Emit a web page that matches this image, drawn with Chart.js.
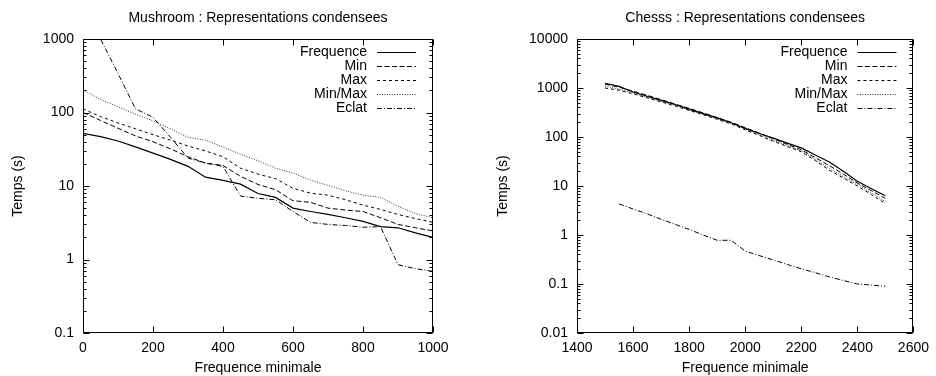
<!DOCTYPE html>
<html>
<head>
<meta charset="utf-8">
<script src="https://cdn.jsdelivr.net/npm/chart.js@4"></script>
<style>
  html, body { margin: 0; padding: 0; background: #fff; }
  #wrap { position: relative; width: 936px; height: 376px; }
  canvas { position: absolute; top: 0; }
  #mushroom { left: 0; }
  #chess { left: 468px; }
</style>
</head>
<body>
<div id="wrap">
  <canvas id="mushroom" width="468" height="376"></canvas>
  <canvas id="chess" width="468" height="376"></canvas>
</div>
<script>
// Series names (legend order)
const seriesLabels = ['Frequence', 'Min', 'Max', 'Min/Max', 'Eclat'];

// Mushroom
const mushroomSupport = [0, 50, 100, 150, 200, 250, 300, 350, 400, 450, 500, 550, 600, 650, 700, 750, 800, 850, 900, 950, 1000];
const mushroomFrequence = [52, 47, 41, 34, 28, 23, 18.5, 13.2, 11.9, 10.6, 7.9, 7, 5, 4.5, 4.1, 3.7, 3.3, 2.8, 2.7, 2.3, 2.0];
const mushroomMin = [100, 78, 61, 48, 40, 32, 25, 20.5, 19, 13.5, 10.5, 8.9, 6.3, 6, 5, 4.7, 4.5, 3.7, 3.0, 2.7, 2.45];
const mushroomMax = [112, 88, 72, 60, 50, 42, 35, 30, 25, 17.5, 14.5, 12.6, 9.3, 8, 7.5, 6.5, 5.5, 4.8, 4.1, 3.6, 3.2];
const mushroomMinMax = [205, 150, 120, 95, 77, 60, 46, 42, 34, 27, 22, 17.5, 15, 12, 10.2, 8.6, 7.5, 7, 5.3, 4.2, 3.7];
const mushroomEclat = [3000, 1000, 340, 112, 86, 46, 24, 20.5, 18.5, 7.3, 6.8, 6.5, 4.5, 3.2, 3.0, 2.9, 2.75, 2.8, 0.85, 0.75, 0.69];
const mushroomXTicks = [0, 200, 400, 600, 800, 1000];
const mushroomYTicks = [0.1, 1, 10, 100, 1000];

// Chess
const chessSupport = [1500, 1550, 1600, 1650, 1700, 1750, 1800, 1850, 1900, 1950, 2000, 2050, 2100, 2150, 2200, 2250, 2300, 2350, 2400, 2450, 2500];
const chessFrequence = [1250, 1080, 830, 680, 560, 460, 370, 300, 245, 195, 150, 118, 95, 75, 60, 43, 31, 20, 12.5, 8.8, 6.3];
const chessMin = [1200, 1040, 860, 710, 580, 470, 385, 310, 250, 200, 155, 120, 92, 71, 55, 38, 26, 17.5, 11.5, 8, 5.6];
const chessMax = [1000, 900, 760, 630, 520, 430, 350, 285, 230, 185, 140, 108, 82, 64, 50, 33, 21, 14.5, 10, 6.7, 4.4];
const chessMinMax = [1100, 950, 790, 650, 535, 440, 355, 290, 235, 190, 145, 112, 85, 67, 52, 35, 23, 15.5, 10.8, 7.2, 4.8];
const chessEclat = [null, 4.3, 3.4, 2.7, 2.1, 1.65, 1.3, 1.0, 0.78, 0.78, 0.47, 0.38, 0.31, 0.25, 0.205, 0.17, 0.14, 0.118, 0.1, 0.095, 0.09];
const chessXTicks = [1400, 1600, 1800, 2000, 2200, 2400, 2600];
const chessYTicks = [0.01, 0.1, 1, 10, 100, 1000, 10000];

const FONT = "'Liberation Sans', Arial, sans-serif";
const FONT_SIZE = 14;

// gnuplot-like line types
const lineStyles = [
    { borderDash: [], borderWidth: 1.2, borderColor: '#000' },
    { borderDash: [5, 2.5], borderWidth: 1, borderColor: '#000' },
    { borderDash: [3, 3], borderWidth: 1, borderColor: '#000' },
    { borderDash: [1, 1.5], borderWidth: 1, borderColor: '#333' },
    { borderDash: [5, 2, 1, 2], borderWidth: 1, borderColor: '#000' }
];

// Frame, inward ticks, titles and legend like gnuplot
const gnuplotFrame = {
    id: 'gnuplotFrame',
    afterDatasetsDraw(chart, args, opts) {
        const { ctx, chartArea: a } = chart;
        const x = chart.scales.x, y = chart.scales.y;
        const L = Math.round(a.left) + 0.5, R = Math.round(a.right) - 0.5;
        const T = Math.round(a.top) + 0.5, B = Math.round(a.bottom) - 0.5;
        ctx.save();
        ctx.setLineDash([]);
        ctx.strokeStyle = '#000';
        ctx.lineWidth = 1;
        ctx.strokeRect(L, T, R - L, B - T);

        ctx.beginPath();
        x.ticks.forEach(t => {
            const px = Math.round(x.getPixelForValue(t.value)) + 0.5;
            ctx.moveTo(px, B); ctx.lineTo(px, B - 6);
            ctx.moveTo(px, T); ctx.lineTo(px, T + 6);
        });
        const lo = Math.round(Math.log10(y.min)), hi = Math.round(Math.log10(y.max));
        for (let d = lo; d <= hi; d++) {
            const py = Math.round(y.getPixelForValue(Math.pow(10, d))) + 0.5;
            ctx.moveTo(L, py); ctx.lineTo(L + 6, py);
            ctx.moveTo(R, py); ctx.lineTo(R - 6, py);
            if (d < hi) {
                for (let k = 2; k <= 9; k++) {
                    const my = Math.round(y.getPixelForValue(k * Math.pow(10, d))) + 0.5;
                    ctx.moveTo(L, my); ctx.lineTo(L + 3, my);
                    ctx.moveTo(R, my); ctx.lineTo(R - 3, my);
                }
            }
        }
        ctx.stroke();

        ctx.fillStyle = '#000';
        ctx.font = FONT_SIZE + 'px ' + FONT;
        ctx.textBaseline = 'middle';
        ctx.textAlign = 'center';
        const cx = (a.left + a.right) / 2;
        ctx.fillText(opts.title, cx, 18);
        ctx.fillText('Frequence minimale', cx, 368);
        ctx.save();
        ctx.translate(opts.yTitleX, (a.top + a.bottom) / 2);
        ctx.rotate(-Math.PI / 2);
        ctx.fillText('Temps (s)', 0, 0);
        ctx.restore();

        // legend: text on the left, line sample on the right
        chart.data.datasets.forEach((ds, i) => {
            const ly = Math.round(a.top + 13 + 14 * i) + 0.5;
            ctx.textAlign = 'right';
            ctx.fillText(ds.label, a.right - 66, ly);
            ctx.beginPath();
            ctx.strokeStyle = ds.borderColor;
            ctx.lineWidth = ds.borderWidth;
            ctx.setLineDash(ds.borderDash);
            ctx.moveTo(a.right - 56, ly);
            ctx.lineTo(a.right - 17, ly);
            ctx.stroke();
        });
        ctx.restore();
    }
};

function buildChart(canvasId, title, support, series, xTicks, yTicks, yWidth, padRight, yTitleX) {
    const ctx = document.getElementById(canvasId).getContext('2d');
    return new Chart(ctx, {
        type: 'line',
        data: {
            datasets: series.map((values, i) => ({
                label: seriesLabels[i],
                data: support.map((s, j) => ({ x: s, y: values[j] })),
                ...lineStyles[i],
                fill: false,
                tension: 0,
                pointRadius: 0,
                spanGaps: false
            }))
        },
        options: {
            responsive: false,
            animation: false,
            layout: { padding: { top: 39, right: padRight, bottom: 0, left: 0 } },
            plugins: {
                legend: { display: false },
                tooltip: { enabled: false },
                gnuplotFrame: { title: title, yTitleX: yTitleX }
            },
            scales: {
                x: {
                    type: 'linear',
                    min: xTicks[0],
                    max: xTicks[xTicks.length - 1],
                    afterBuildTicks: s => { s.ticks = xTicks.map(v => ({ value: v })); },
                    afterFit: s => { s.height = 43; },
                    grid: { display: false, drawTicks: false },
                    border: { display: false },
                    ticks: { color: '#000', font: { family: FONT, size: FONT_SIZE }, padding: 7, maxRotation: 0,
                             callback: v => String(v) }
                },
                y: {
                    type: 'logarithmic',
                    min: yTicks[0],
                    max: yTicks[yTicks.length - 1],
                    afterBuildTicks: s => { s.ticks = yTicks.map(v => ({ value: v })); },
                    afterFit: s => { s.width = yWidth; },
                    grid: { display: false, drawTicks: false },
                    border: { display: false },
                    ticks: { color: '#000', font: { family: FONT, size: FONT_SIZE }, padding: 9,
                             callback: v => String(v) }
                }
            }
        },
        plugins: [gnuplotFrame]
    });
}

buildChart('mushroom', 'Mushroom : Representations condensees', mushroomSupport,
    [mushroomFrequence, mushroomMin, mushroomMax, mushroomMinMax, mushroomEclat],
    mushroomXTicks, mushroomYTicks, 83, 35, 18);

buildChart('chess', 'Chesss : Representations condensees', chessSupport,
    [chessFrequence, chessMin, chessMax, chessMinMax, chessEclat],
    chessXTicks, chessYTicks, 109, 17, 35);
</script>
</body>
</html>
